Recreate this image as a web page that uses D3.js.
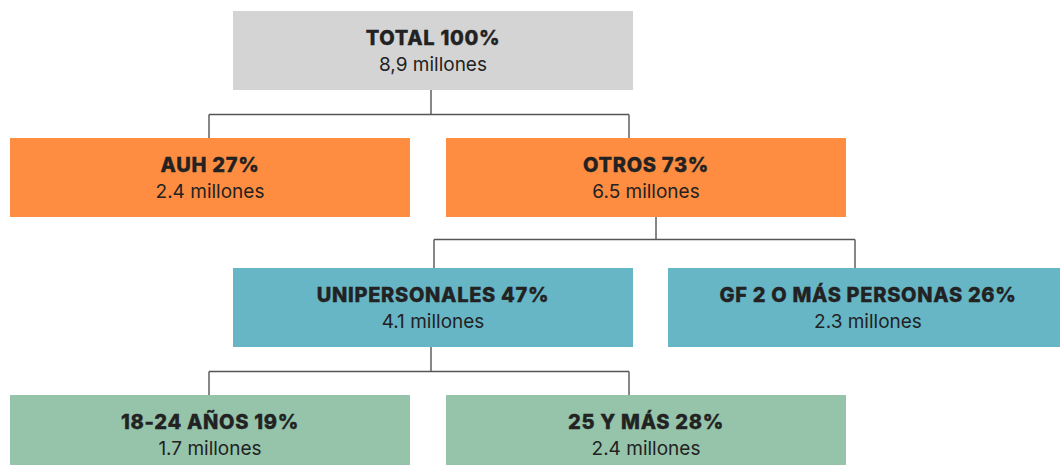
<!DOCTYPE html>
<html>
<head>
<meta charset="utf-8">
<script src="https://cdn.jsdelivr.net/npm/d3@7"></script>
<style>
  html, body { margin: 0; padding: 0; background: #fff; }
  svg { display: block; }
</style>
</head>
<body>
<svg id="chart" width="1060" height="465"></svg>
<script>
// ---- data ----
const nodeIds    = ["total", "auh", "otros", "uni", "gf", "joven", "mayor"];
const parents    = [null, "total", "total", "otros", "otros", "uni", "uni"];
const titles     = ["TOTAL 100%", "AUH 27%", "OTROS 73%", "UNIPERSONALES 47%", "GF 2 O MÁS PERSONAS 26%", "18-24 AÑOS 19%", "25 Y MÁS 28%"];
const subtitles  = ["8,9 millones", "2.4 millones", "6.5 millones", "4.1 millones", "2.3 millones", "1.7 millones", "2.4 millones"];
const levels     = [0, 1, 1, 2, 2, 3, 3];

// ---- layout / style (not data) ----
const boxW = 400, boxH = 79;
const boxLeft = { total: 233, auh: 10, otros: 446, uni: 233, gf: 668, joven: 10, mayor: 446 };
const levelTop = [11, 138, 268, 395];
const levelFill = ["#d4d4d4", "#ff8d41", "#67b6c6", "#95c4ab"];
const connectors = {
  total: { stem: 431, barY: 114.5, ends: [209, 629] },
  otros: { stem: 656, barY: 239.5, ends: [434, 855] },
  uni:   { stem: 431, barY: 371.5, ends: [209, 629] }
};

const nodes = nodeIds.map((id, i) => ({
  id, parent: parents[i], title: titles[i], sub: subtitles[i], level: levels[i]
}));
const root = d3.stratify().id(d => d.id).parentId(d => d.parent)(nodes);

const svg = d3.select("#chart");
const font = "Inter, 'Open Sans', 'Liberation Sans', sans-serif";

const lineG = svg.append("g").attr("stroke", "#555").attr("stroke-width", 1.4).attr("fill", "none");
root.descendants().filter(n => n.children).forEach(n => {
  const c = connectors[n.id];
  const top = levelTop[n.data.level] + boxH;
  const childTop = levelTop[n.data.level + 1];
  const path = d3.path();
  path.moveTo(c.stem, top); path.lineTo(c.stem, c.barY);
  path.moveTo(c.ends[0], c.barY); path.lineTo(c.ends[1], c.barY);
  c.ends.forEach(x => { path.moveTo(x, c.barY); path.lineTo(x, childTop); });
  lineG.append("path").attr("d", path.toString());
});

const g = svg.append("g").selectAll("g").data(root.descendants()).join("g")
  .attr("transform", d => `translate(${boxLeft[d.id]},${levelTop[d.data.level]})`);

g.append("rect").attr("width", boxW).attr("height", boxH)
  .attr("fill", d => levelFill[d.data.level]);

g.append("text").attr("x", boxW / 2).attr("y", 34)
  .attr("text-anchor", "middle").attr("font-family", font)
  .attr("font-weight", 800).attr("font-size", 20).attr("fill", "#222")
  .attr("letter-spacing", 0.7)
  .attr("stroke", "#222").attr("stroke-width", 0.35)
  .text(d => d.data.title);

g.append("text").attr("x", boxW / 2).attr("y", 60)
  .attr("text-anchor", "middle").attr("font-family", font)
  .attr("font-weight", 400).attr("font-size", 19).attr("fill", "#222")
  .text(d => d.data.sub);
</script>
</body>
</html>
